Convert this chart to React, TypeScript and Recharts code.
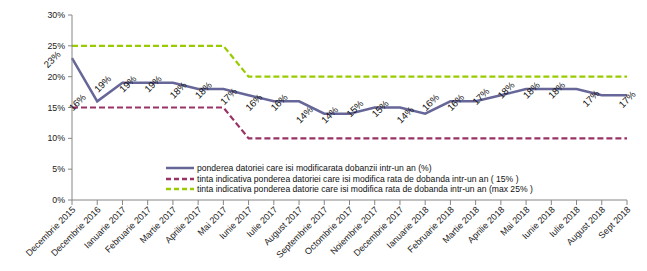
import { LineChart, Line, XAxis, YAxis, Legend, LabelList } from "recharts";

const months = [
  "Decembrie 2015", "Decembrie 2016", "Ianuarie 2017", "Februarie 2017", "Martie 2017",
  "Aprilie 2017", "Mai 2017", "Iunie 2017", "Iulie 2017", "August 2017", "Septembrie 2017",
  "Octombrie 2017", "Noiembrie 2017", "Decembrie 2017", "Ianuarie 2018", "Februarie 2018",
  "Martie 2018", "Aprilie 2018", "Mai 2018", "Iunie 2018", "Iulie 2018", "August 2018", "Sept 2018",
];
const share = [23, 16, 19, 19, 19, 18, 18, 17, 16, 16, 14, 14, 15, 15, 14, 16, 16, 17, 18, 18, 18, 17, 17];
const target15 = [15, 15, 15, 15, 15, 15, 15, 10, 10, 10, 10, 10, 10, 10, 10, 10, 10, 10, 10, 10, 10, 10, 10];
const max25 = [25, 25, 25, 25, 25, 25, 25, 20, 20, 20, 20, 20, 20, 20, 20, 20, 20, 20, 20, 20, 20, 20, 20];
const yTicks = [0, 5, 10, 15, 20, 25, 30];

const names = {
  share: "ponderea datoriei care isi modificarata dobanzii intr-un an (%)",
  target15: "tinta indicativa ponderea datoriei  care isi modifica rata de dobanda intr-un an ( 15% )",
  max25: "tinta indicativa ponderea datorie care isi modifica rata de dobanda intr-un an (max 25% )",
};

const data = months.map((m, i) => ({ month: m, share: share[i], target15: target15[i], max25: max25[i] }));

const FONT = "'Liberation Sans', Arial, sans-serif";

function MonthTick({ x, y, payload }: any) {
  return (
    <text
      x={x + 2}
      y={y}
      transform={`rotate(-45 ${x + 2} ${y})`}
      textAnchor="end"
      dominantBaseline="central"
      fontSize={9}
      fill="#222"
      fontFamily={FONT}
    >
      {payload.value}
    </text>
  );
}

function PctLabel({ x, y, value, index }: any) {
  // Excel pushed the last two labels right so they stay inside the frame
  let dx = -20;
  let dy = 1;
  if (index === 21) { dx = -11; dy = 3; }
  if (index === 22) { dx = 0; dy = 4; }
  const cx = x + dx;
  const cy = y + dy;
  return (
    <text
      x={cx}
      y={cy}
      transform={`rotate(-45 ${cx} ${cy})`}
      textAnchor="middle"
      dominantBaseline="central"
      fontSize={9.6}
      fill="#111"
      fontFamily={FONT}
    >
      {value}%
    </text>
  );
}

function LegendBox() {
  const rows = [
    { key: "share", color: "#666699", dash: undefined },
    { key: "target15", color: "#993366", dash: "5 3" },
    { key: "max25", color: "#99cc00", dash: "5 3" },
  ] as const;
  return (
    <div style={{ fontFamily: FONT, fontSize: 8.6, color: "#111", lineHeight: "10.5px" }}>
      {rows.map((r) => (
        <div key={r.key} style={{ display: "flex", alignItems: "center", whiteSpace: "nowrap", height: 10.5 }}>
          <svg width={30} height={10} style={{ marginRight: 2 }}>
            <line x1={1} y1={5} x2={29} y2={5} stroke={r.color} strokeWidth={2.5} strokeDasharray={r.dash} />
          </svg>
          <span>{names[r.key]}</span>
        </div>
      ))}
    </div>
  );
}

export default function App() {
  return (
    <div style={{ position: "absolute", left: 0, top: 0, background: "#fff" }}>
      <LineChart width={647} height={271} data={data} margin={{ top: 15, right: 20, bottom: 0, left: 0 }}>
        <XAxis
          dataKey="month"
          interval={0}
          height={71}
          tick={<MonthTick />}
          tickSize={5}
          tickMargin={3}
          stroke="#868686"
          padding={{ left: 0, right: 0 }}
        />
        <YAxis
          width={72}
          domain={[0, 30]}
          ticks={yTicks}
          tickFormatter={(v: number) => `${v}%`}
          tick={{ fontSize: 8.8, fill: "#222", fontFamily: FONT }}
          tickSize={4}
          tickMargin={3}
          stroke="#868686"
        />
        <Legend
          layout="vertical"
          align="center"
          verticalAlign="middle"
          content={<LegendBox />}
          wrapperStyle={{ position: "absolute", left: 165, top: 163, width: "auto" }}
        />
        <Line
          dataKey="share"
          name={names.share}
          stroke="#666699"
          strokeWidth={2.5}
          dot={false}
          isAnimationActive={false}
        >
          <LabelList dataKey="share" content={<PctLabel />} />
        </Line>
        <Line
          dataKey="target15"
          name={names.target15}
          stroke="#993366"
          strokeWidth={2.2}
          strokeDasharray="6 3"
          dot={false}
          isAnimationActive={false}
        />
        <Line
          dataKey="max25"
          name={names.max25}
          stroke="#99cc00"
          strokeWidth={2.2}
          strokeDasharray="6 3"
          dot={false}
          isAnimationActive={false}
        />
      </LineChart>
    </div>
  );
}
